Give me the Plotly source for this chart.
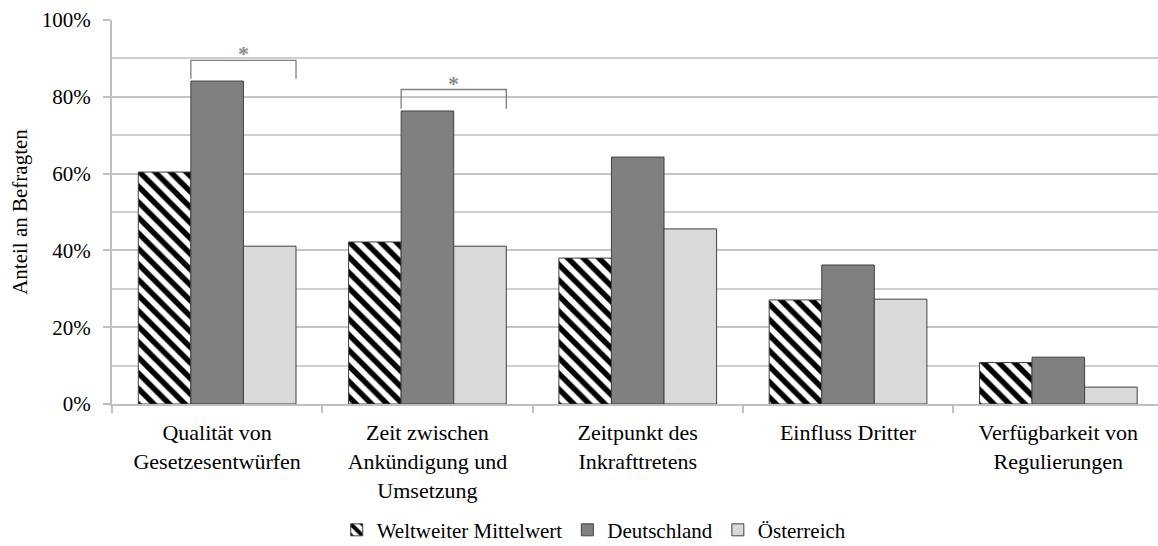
import plotly.graph_objects as go

categories = [
    "Qualität von<br>Gesetzesentwürfen",
    "Zeit zwischen<br>Ankündigung und<br>Umsetzung",
    "Zeitpunkt des<br>Inkrafttretens",
    "Einfluss Dritter",
    "Verfügbarkeit von<br>Regulierungen",
]
weltweit = [60.4, 42.2, 38.0, 27.1, 10.8]
deutschland = [84.1, 76.3, 64.3, 36.2, 12.2]
oesterreich = [41.1, 41.1, 45.6, 27.3, 4.4]
series_names = ["Weltweiter Mittelwert", "Deutschland", "Österreich"]
y_tickvals = [0, 20, 40, 60, 80, 100]
y_ticktext = ["0%", "20%", "40%", "60%", "80%", "100%"]

# significance brackets: (category index, bracket top value)
sig_groups = [0, 1]
sig_tops = [89.5, 81.9]

FONT = "Liberation Serif, Times New Roman, serif"
FS = 21
line_col = "#404040"

fig = go.Figure()
fig.add_trace(go.Bar(
    x=categories, y=weltweit, name=series_names[0],
    marker=dict(color="white", line=dict(color=line_col, width=1),
                pattern=dict(shape="\\", fgcolor="black", bgcolor="white", fgopacity=1,
                             size=11, solidity=0.5, fillmode="overlay")),
))
fig.add_trace(go.Bar(
    x=categories, y=deutschland, name=series_names[1],
    marker=dict(color="#808080", line=dict(color=line_col, width=1)),
))
fig.add_trace(go.Bar(
    x=categories, y=oesterreich, name=series_names[2],
    marker=dict(color="#d9d9d9", line=dict(color=line_col, width=1)),
))

XR = [-0.5, 4.474]
bw = 0.25
for gi, top in zip(sig_groups, sig_tops):
    x0 = gi - bw / 2
    x1 = gi + bw * 1.5
    leg = deutschland[gi] + 0.6
    fig.add_trace(go.Scatter(
        x=[x0, x0, x1, x1], y=[leg, top, top, leg], mode="lines",
        line=dict(color="#7f7f7f", width=1.3), showlegend=False,
        hoverinfo="skip", xaxis="x2",
    ))
    fig.add_annotation(x=(x0 + x1) / 2, y=top + 2.7, xref="x2", yref="y",
                       text="<b>*</b>", showarrow=False, yanchor="middle",
                       font=dict(family=FONT, size=22, color="#8a8a8a"), yshift=-4)

fig.update_layout(
    width=1158, height=546,
    margin=dict(l=112, r=0, t=20, b=142, pad=0),
    paper_bgcolor="white", plot_bgcolor="white",
    barmode="group", bargap=0.25, bargroupgap=0,
    font=dict(family=FONT, size=FS, color="black"),
    xaxis=dict(
        type="category", range=XR,
        showline=True, linecolor="#c0c0c0", linewidth=2,
        ticks="outside", tickson="boundaries", ticklen=7, tickcolor="#c0c0c0", tickwidth=2,
        ticklabelstandoff=8,
        tickfont=dict(family=FONT, size=22, color="black"),
        showgrid=False,
    ),
    xaxis2=dict(range=XR, overlaying="x", visible=False),
    yaxis=dict(
        range=[0, 100], tickvals=y_tickvals, ticktext=y_ticktext,
        showline=True, linecolor="#c0c0c0", linewidth=2,
        ticks="outside", ticklen=7, tickcolor="#c0c0c0", tickwidth=2,
        ticklabelstandoff=8,
        showgrid=True, gridcolor="#c4c4c4", gridwidth=1.5,
        minor=dict(dtick=10, showgrid=True, gridcolor="#cfcfcf", gridwidth=1.5),
        tickfont=dict(family=FONT, size=FS, color="black"),
        title=dict(text="Anteil an Befragten", font=dict(family=FONT, size=FS, color="black"),
                   standoff=8),
        zeroline=False,
    ),
    legend=dict(
        orientation="h", xref="paper", x=0.461, xanchor="center",
        yref="container", y=0.029, yanchor="middle",
        font=dict(family=FONT, size=21, color="black"),
        itemwidth=30, traceorder="normal", bgcolor="rgba(0,0,0,0)",
    ),
    showlegend=True,
)

fig.write_html("out.html", config={"displayModeBar": False},
               post_script="document.body.style.margin='0';")
